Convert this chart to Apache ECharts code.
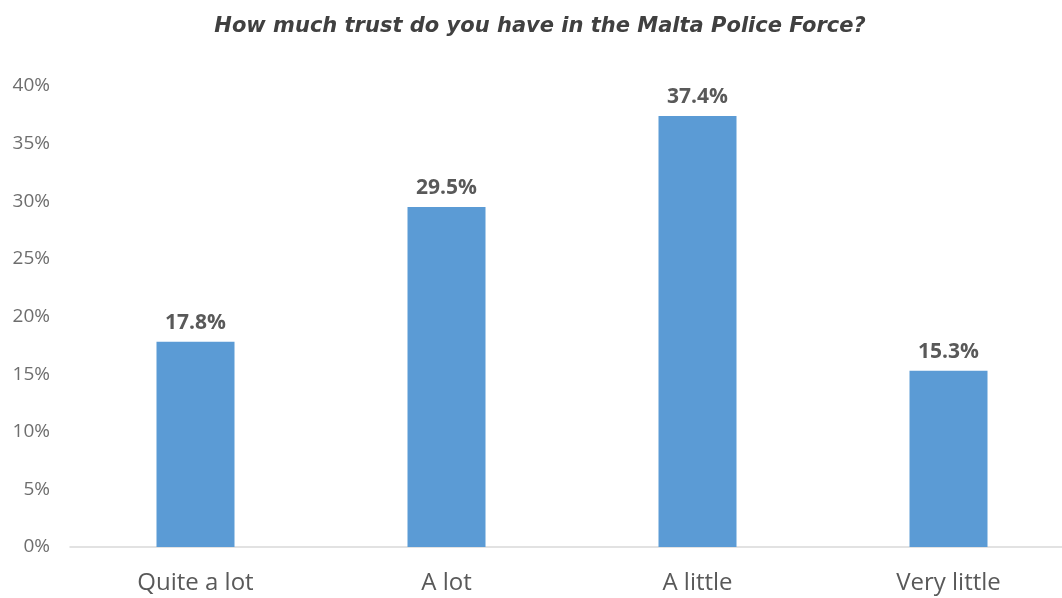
<!DOCTYPE html>
<html>
<head>
<meta charset="utf-8">
<script src="https://cdn.jsdelivr.net/npm/echarts@6/dist/echarts.min.js"></script>
<style>html,body{margin:0;padding:0;background:#fff;overflow:hidden;width:1062px;height:598px;}#main{width:1080px;height:598px;}</style>
</head>
<body>
<div id="main"></div>
<script>
const categories = ['Quite a lot', 'A lot', 'A little', 'Very little'];
const values = [17.8, 29.5, 37.4, 15.3];
const yTicks = [0, 5, 10, 15, 20, 25, 30, 35, 40];

const chart = echarts.init(document.getElementById('main'));
chart.setOption({
  backgroundColor: '#ffffff',
  animation: false,
  title: {
    text: 'How much trust do you have in the Malta Police Force?',
    left: 535, top: 11, textAlign: 'center',
    textStyle: { fontFamily: 'DejaVu Sans', fontStyle: 'italic', fontWeight: 'bold', fontSize: 21, color: '#404040' }
  },
  grid: { left: 70, top: 86, bottom: 51, width: 1004, containLabel: false },
  xAxis: {
    type: 'category', data: categories,
    axisLine: { lineStyle: { color: '#d9d9d9', width: 1.5 } },
    axisTick: { show: false },
    axisLabel: { color: '#595959', fontFamily: 'Open Sans', fontSize: 24, margin: 24 }
  },
  yAxis: {
    type: 'value', min: yTicks[0], max: yTicks[yTicks.length - 1], interval: 5,
    axisLine: { show: false }, axisTick: { show: false }, splitLine: { show: false },
    axisLabel: { color: '#6e6e6e', fontFamily: 'Open Sans', fontSize: 19, margin: 20, formatter: v => v + '%' }
  },
  series: [{
    type: 'bar', data: values, barWidth: 78,
    itemStyle: { color: '#5b9bd5' },
    label: { show: true, position: 'top', distance: 8, formatter: p => p.value.toFixed(1) + '%',
      color: '#595959', fontFamily: 'Open Sans', fontWeight: 'bold', fontSize: 21 }
  }]
});
</script>
</body>
</html>
